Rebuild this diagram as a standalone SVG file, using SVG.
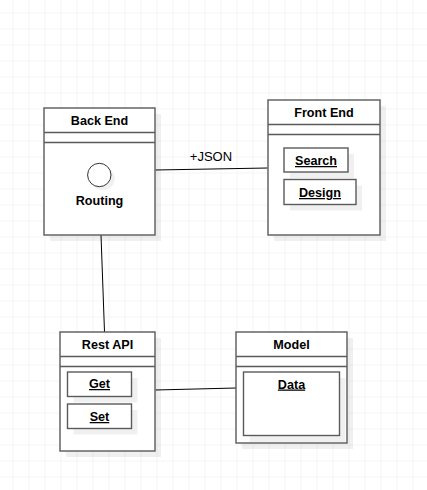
<svg xmlns="http://www.w3.org/2000/svg" width="427" height="490" viewBox="0 0 427 490">
<defs>
<pattern id="grid" x="0" y="0" width="16" height="16" patternUnits="userSpaceOnUse" patternTransform="translate(12.5 12.5)">
<path d="M0 0H16M0 0V16" fill="none" stroke="#ebebeb" stroke-width="1"/>
</pattern>
<style>
.box{fill:#fff;stroke:#5a5a5a;stroke-width:1.4}
.sh{fill:#000;fill-opacity:0.06}
.ln{stroke:#5a5a5a;stroke-width:1.4;fill:none}
.t{font-family:"Liberation Sans",Arial,sans-serif;font-size:12.6px;font-weight:bold;fill:#000;text-anchor:middle}
.u{text-decoration:underline}
.lbl{font-family:"Liberation Sans",Arial,sans-serif;font-size:13px;fill:#000;text-anchor:middle}
.edge{stroke:#000;stroke-width:1;fill:none}
</style>
</defs>
<rect width="427" height="490" fill="#fff"/>
<rect width="427" height="490" fill="url(#grid)"/>

<g id="connectors">
<path class="edge" d="M155.5 170 L267.5 168"/>
<text class="lbl" x="211" y="160.5">+JSON</text>
<path class="edge" d="M101 235 L104.5 332"/>
<path class="edge" d="M155.5 390 L236 388"/>
</g>

<g id="backend">
<rect class="sh" x="50" y="114" width="111" height="127"/>
<rect class="box" x="44" y="108" width="111" height="127"/>
<path class="ln" d="M44 132.5H155M44 142.5H155"/>
<text class="t" x="99.5" y="125.2">Back End</text>
<circle cx="103" cy="178.5" r="11.7" fill="#000" fill-opacity="0.06"/>
<circle cx="99.3" cy="175" r="11.7" fill="#fff" stroke="#333" stroke-width="1"/>
<text class="t" x="99.5" y="204.5">Routing</text>
</g>

<g id="frontend">
<rect class="sh" x="274" y="106" width="112" height="135"/>
<rect class="box" x="268" y="100" width="112" height="135"/>
<path class="ln" d="M268 124.5H380M268 134.5H380"/>
<text class="t" x="324" y="117.2">Front End</text>
<rect class="sh" x="290" y="154" width="64" height="24"/>
<rect class="box" x="284" y="148" width="64" height="24"/>
<text class="t u" x="316" y="165">Search</text>
<rect class="sh" x="290" y="185.5" width="72" height="25"/>
<rect class="box" x="284" y="179.5" width="72" height="25"/>
<text class="t u" x="320" y="197">Design</text>
</g>

<g id="restapi">
<rect class="sh" x="66" y="338" width="95" height="119"/>
<rect class="box" x="60" y="332" width="95" height="119"/>
<path class="ln" d="M60 356.5H155M60 366.5H155"/>
<text class="t" x="107.5" y="349">Rest API</text>
<rect class="sh" x="73.5" y="378" width="64" height="24.5"/>
<rect class="box" x="67.5" y="372" width="64" height="24.5"/>
<text class="t u" x="99.5" y="388">Get</text>
<rect class="sh" x="73.5" y="410" width="64" height="24.5"/>
<rect class="box" x="67.5" y="404" width="64" height="24.5"/>
<text class="t u" x="99.5" y="421">Set</text>
</g>

<g id="model">
<rect class="sh" x="242" y="338" width="111" height="111"/>
<rect class="box" x="236" y="332" width="111" height="111"/>
<path class="ln" d="M236 356.5H347M236 366.5H347"/>
<text class="t" x="291.5" y="349">Model</text>
<rect class="sh" x="249.5" y="378" width="96" height="64"/>
<rect class="box" x="243.5" y="372" width="96" height="63.5"/>
<text class="t u" x="291.5" y="388.5">Data</text>
</g>
</svg>
